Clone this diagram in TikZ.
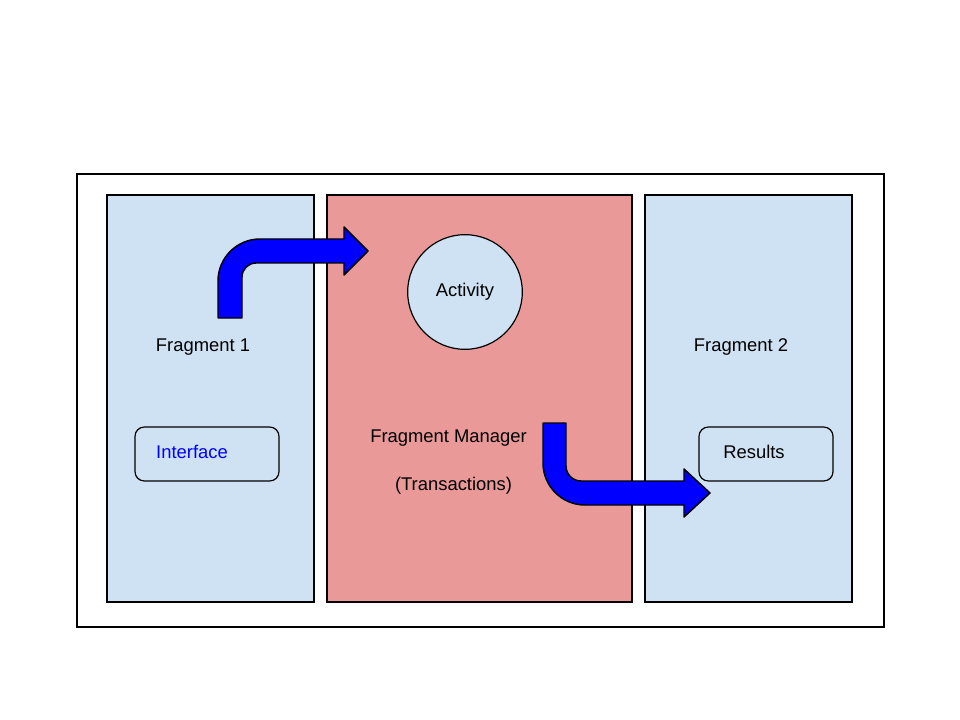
\documentclass[tikz,border=0pt]{standalone}
\usepackage{fontspec}
\setmainfont{Liberation Sans}
\usepackage{tikz}

\definecolor{paneblue}{HTML}{CFE2F3}
\definecolor{panered}{HTML}{EA9999}
\definecolor{arrowblue}{HTML}{0000FF}

\tikzset{
    pane/.style={draw=black, line width=0.9pt},
    label/.style={font=\fontsize{13.8}{16}\selectfont, inner sep=0pt},
    box/.style={draw=black, line width=0.9pt, rounded corners=7pt},
    bigarrow/.style={fill=arrowblue, draw=black, line width=1.1pt, line join=round}
}

\begin{document}
\begin{tikzpicture}[x=0.75pt, y=-0.75pt]
    \useasboundingbox (0,0) rectangle (960,720);
    \draw[fill=white, line width=0.8pt] (77,174) rectangle (884,627);
    \draw[pane, fill=paneblue] (107,195) rectangle (314,602);
    \draw[pane, fill=panered] (327,195) rectangle (632,602);
    \draw[pane, fill=paneblue] (645,195) rectangle (852,602);

    \node[label] (frag1) at (203,347) {Fragment 1};
    \node[label] (frag2) at (741,347) {Fragment 2};
    \node[label] (manager) at (448.5,438) {Fragment Manager};
    \node[label] (trans) at (453.5,486) {(Transactions)};

    \node[draw=black, line width=0.9pt, fill=paneblue, circle, minimum size=86pt,
        font=\fontsize{13.8}{16}\selectfont] (activity) at (465,292) {Activity};

    \draw[box] (135,427) rectangle (279,481);
    \node[label, text=arrowblue] (interface) at (192,452) {Interface};
    \draw[box] (699,427) rectangle (833,481);
    \node[label] (results) at (754,452) {Results};

    \draw[bigarrow] (218,318) -- (218,281) .. controls (218,257.8) and (236.8,239) .. (260,239)
        -- (344,239) -- (344,227) -- (368,251) -- (344,275) -- (344,263) -- (256,263)
        .. controls (248.3,263) and (242,269.3) .. (242,277) -- (242,318) -- cycle;
    \draw[bigarrow] (543,423) -- (566,423) -- (566,466) .. controls (566,474.3) and (572.7,481) .. (581,481)
        -- (684,481) -- (684,469) -- (710,493) -- (684,517) -- (684,505) -- (585,505)
        .. controls (561.8,505) and (543,486.2) .. (543,463) -- cycle;
\end{tikzpicture}
\end{document}
